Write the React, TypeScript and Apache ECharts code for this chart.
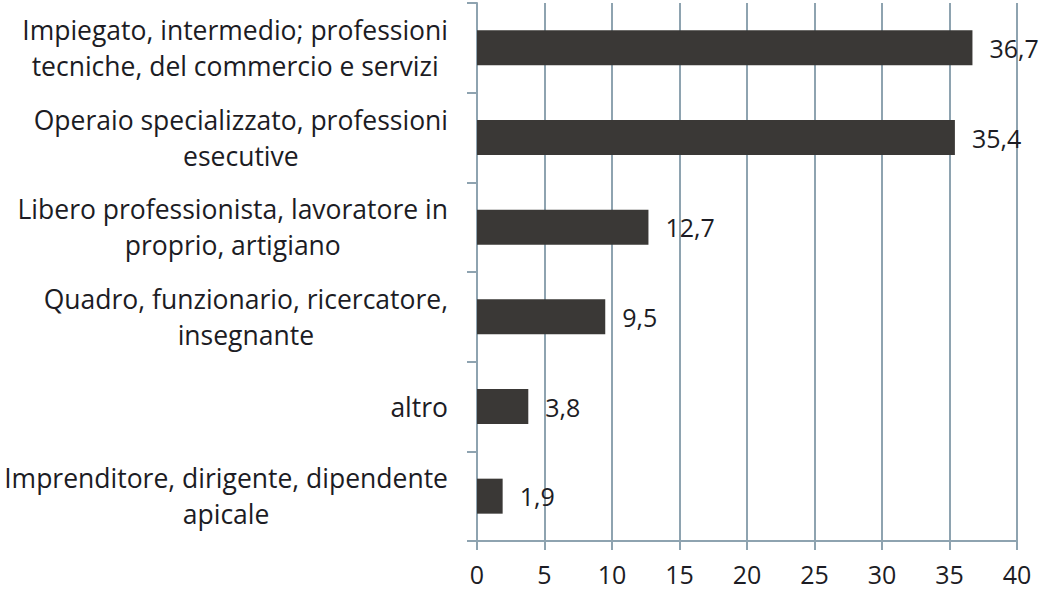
import React, { useEffect, useRef } from "react";
import * as echarts from "echarts";

const categories: string[] = [
  "Impiegato, intermedio; professioni\ntecniche, del commercio e servizi",
  "Operaio specializzato, professioni\nesecutive",
  "Libero professionista, lavoratore in\nproprio, artigiano",
  "Quadro, funzionario, ricercatore,\ninsegnante",
  "altro",
  "Imprenditore, dirigente, dipendente\napicale",
];
const values: number[] = [36.7, 35.4, 12.7, 9.5, 3.8, 1.9];
const xMin = 0;
const xMax = 40;
const xStep = 5;

const FONT = "Open Sans";
const FS_CAT = 26.5;
const FS_NUM = 25;
const TEXT = "#1c1c24";
const LINE = "#8ea3b0";

export default function App() {
  const ref = useRef<HTMLDivElement>(null);
  useEffect(() => {
    document.body.style.margin = "0";
    const chart = echarts.init(ref.current!, null, { renderer: "svg" });
    chart.setOption({
      animation: false,
      backgroundColor: "#ffffff",
      grid: { left: 477, right: 31, top: 3, bottom: 49, containLabel: false },
      xAxis: {
        type: "value",
        min: xMin,
        max: xMax,
        interval: xStep,
        axisLine: { show: true, lineStyle: { color: LINE, width: 2 } },
        axisTick: { show: true, length: 9, lineStyle: { color: LINE, width: 2 } },
        splitLine: { show: true, lineStyle: { color: LINE, width: 2 } },
        axisLabel: {
          fontFamily: FONT,
          fontSize: FS_NUM,
          color: TEXT,
          margin: 23,
          lineHeight: 20,
        },
      },
      yAxis: {
        type: "category",
        inverse: true,
        data: categories,
        axisLine: { show: true, lineStyle: { color: LINE, width: 2 } },
        axisTick: { show: true, length: 10, lineStyle: { color: LINE, width: 2 } },
        axisLabel: {
          margin: 29,
          formatter: (v: string) => v.split("\n").map((l) => `{a|${l}}`).join("\n"),
          rich: {
            a: { align: "center", fontFamily: FONT, fontSize: FS_CAT, color: TEXT, lineHeight: 36 },
          },
        },
      },
      series: [
        {
          type: "bar",
          data: values,
          barWidth: 35,
          itemStyle: { color: "#3a3836" },
          label: {
            show: true,
            position: "right",
            distance: 17,
            fontFamily: FONT,
            fontSize: FS_NUM,
            color: TEXT,
            formatter: (p: any) => String(p.value).replace(".", ","),
          },
        },
      ],
    });
    return () => chart.dispose();
  }, []);
  return <div ref={ref} style={{ width: 1048, height: 590 }} />;
}
